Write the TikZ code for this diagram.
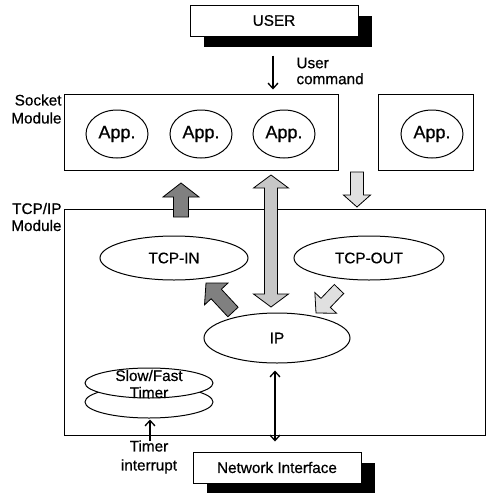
\documentclass[tikz,border=0pt]{standalone}
\usepackage{fontspec}
\setmainfont{Liberation Sans}[FakeBold=0.6]
\usetikzlibrary{calc,shadows,shapes.geometric,arrows.meta}

% Fat block arrow: style, tail, tip, shaft half-width, head half-width, head length
\newcommand\fatarr[6]{%
  \draw[#1] let \p1=(#2), \p2=(#3), \n1={atan2(\y2-\y1,\x2-\x1)} in
    ($(\p1)+(\n1+90:#4)$) -- ($(\p2)+(\n1+180:#6)+(\n1+90:#4)$)
    -- ($(\p2)+(\n1+180:#6)+(\n1+90:#5)$) -- (\p2)
    -- ($(\p2)+(\n1+180:#6)+(\n1-90:#5)$) -- ($(\p2)+(\n1+180:#6)+(\n1-90:#4)$)
    -- ($(\p1)+(\n1-90:#4)$) -- cycle;}
% Fat double-headed block arrow between two points
\newcommand\fatdarr[6]{%
  \draw[#1] let \p1=(#2), \p2=(#3), \n1={atan2(\y2-\y1,\x2-\x1)} in
    (\p1) -- ($(\p1)+(\n1:#6)+(\n1+90:#5)$) -- ($(\p1)+(\n1:#6)+(\n1+90:#4)$)
    -- ($(\p2)+(\n1+180:#6)+(\n1+90:#4)$) -- ($(\p2)+(\n1+180:#6)+(\n1+90:#5)$)
    -- (\p2)
    -- ($(\p2)+(\n1+180:#6)+(\n1-90:#5)$) -- ($(\p2)+(\n1+180:#6)+(\n1-90:#4)$)
    -- ($(\p1)+(\n1:#6)+(\n1-90:#4)$) -- ($(\p1)+(\n1:#6)+(\n1-90:#5)$) -- cycle;}

\begin{document}
\begin{tikzpicture}[x=1pt,y=-1pt,line width=1pt,
  txt/.style={font=\fontsize{15.3}{17}\selectfont,inner sep=0pt},
  apptxt/.style={font=\fontsize{18}{20}\selectfont},
  modbox/.style={draw,inner sep=0pt},
  shbox/.style={draw,fill=white,inner sep=0pt,txt,
    drop shadow={shadow xshift=14pt,shadow yshift=-11pt,fill=black,opacity=1}},
  proc/.style={draw,ellipse,inner sep=0pt,txt},
  app/.style={draw,ellipse,inner sep=0pt,apptxt,minimum width=62pt,minimum height=48pt},
  arr/.style={-{Straight Barb[length=5.5pt,width=10pt,line width=1.3pt]},line width=1.3pt},
  darr/.style={{Straight Barb[length=5.5pt,width=10pt,line width=1.3pt]}-{Straight Barb[length=5.5pt,width=10pt,line width=1.3pt]},line width=1.3pt},
  darkfat/.style={draw,line width=0.8pt,fill=black!50},
  midfat/.style={draw,line width=0.8pt,fill=black!22},
  lightfat/.style={draw,line width=0.8pt,fill=black!12}]
\useasboundingbox (0,0) rectangle (489,493);

% user and network interface
\node[shbox,minimum width=168pt,minimum height=31pt] (user) at (274,20.5) {USER};
\node[shbox,minimum width=168pt,minimum height=31pt] (ni) at (277,467.5) {Network Interface};

% socket module
\node[modbox,minimum width=274pt,minimum height=76pt] (socket) at (201,132) {};
\node[modbox,minimum width=95pt,minimum height=76pt] (sockr) at (425.5,132) {};
\node[app] (app1) at (117,134) {App.};
\node[app] (app2) at (201,134) {App.};
\node[app] (app3) at (284,134) {App.};
\node[app] (app4) at (432,134) {App.};
\node[txt,align=right,anchor=east,font=\fontsize{15.3}{18}\selectfont] (socklbl) at (62,109) {Socket\\Module};

% TCP/IP module
\node[modbox,minimum width=421pt,minimum height=226pt] (tcpip) at (274.5,322) {};
\node[txt,align=right,anchor=east] (tcplbl) at (62,217) {TCP/IP\\Module};
\node[proc,minimum width=148pt,minimum height=44pt] (tcpin) at (174,258) {TCP-IN};
\node[proc,minimum width=150pt,minimum height=44pt] (tcpout) at (369,258) {TCP-OUT};
\node[proc,minimum width=146pt,minimum height=50pt] (ip) at (277,338) {IP};

% stacked timer ellipses
\node[draw,ellipse,inner sep=0pt,minimum width=128pt,minimum height=32pt] (tmrB) at (149,402) {};
\node[draw,ellipse,fill=white,inner sep=0pt,minimum width=128pt,minimum height=30pt] (tmrA) at (149,383) {};
\node[txt,align=center] (tmrlbl) at (149,384) {Slow/Fast\\Timer};

% labels
\node[txt,align=left,anchor=west,font=\fontsize{15.3}{16}\selectfont] (cmdlbl) at (296,71) {User\\command};
\node[txt,align=center,font=\fontsize{15.3}{19}\selectfont] (intlbl) at (149,457) {Timer\\interrupt};

% thin connectors
\draw[arr] ([xshift=-1pt,yshift=-19pt]user.south) -- ([xshift=72pt,yshift=4pt]socket.north);
\draw[arr] ([xshift=1pt,yshift=-22pt]tmrB.south) -- ([xshift=1pt,yshift=-1pt]tmrB.south);
\draw[darr] ([xshift=-2pt,yshift=-7pt]ip.south) -- ([xshift=-2pt,yshift=10pt]ni.north);

% block arrows
\coordinate (upT) at (181,217);  \coordinate (upH) at (181,183);
\coordinate (dbA) at (271,175);  \coordinate (dbB) at (271,307);
\coordinate (dnT) at (357,172);  \coordinate (dnH) at (357,207);
\coordinate (inT) at (233,312);  \coordinate (inH) at (206,283);
\coordinate (outT) at (339,289); \coordinate (outH) at (316,313);
\fatarr{darkfat}{upT}{upH}{7.5pt}{18pt}{14pt}
\fatdarr{midfat}{dbA}{dbB}{6.5pt}{17.5pt}{13pt}
\fatarr{lightfat}{dnT}{dnH}{6.5pt}{13.5pt}{12pt}
\fatarr{darkfat}{inT}{inH}{7pt}{16pt}{15pt}
\fatarr{lightfat}{outT}{outH}{6.5pt}{15pt}{14pt}
\end{tikzpicture}
\end{document}
